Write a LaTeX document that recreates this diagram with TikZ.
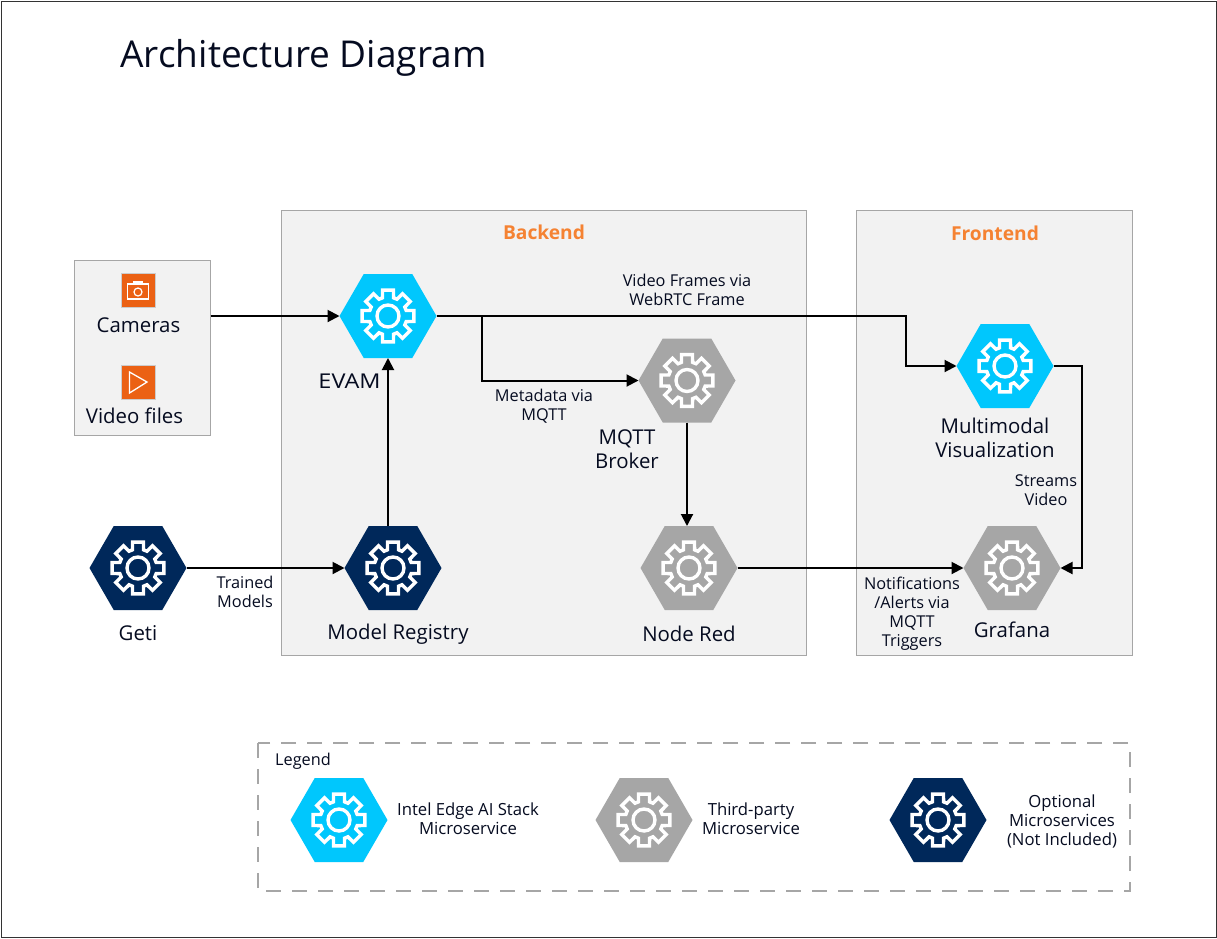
\documentclass[tikz,border=0pt]{standalone}
\usepackage{fontspec}
\setmainfont{Open Sans}
\usetikzlibrary{shapes.geometric,arrows.meta,calc}
\definecolor{icyan}{HTML}{00C7FD}
\definecolor{igray}{HTML}{A6A6A6}
\definecolor{inavy}{HTML}{00285A}
\definecolor{iorange}{HTML}{EB6114}
\definecolor{ohead}{HTML}{F58232}
\definecolor{panel}{HTML}{F2F2F2}
\definecolor{panelline}{HTML}{A6A6A6}
\definecolor{ink}{HTML}{050B20}
\newcommand{\fs}[2]{\fontsize{#1pt}{#2pt}\selectfont}
\tikzset{
  x=1pt,y=-1pt,
  panelbox/.style={draw=panelline,fill=panel,line width=1pt},
  hexnode/.style={regular polygon,regular polygon sides=6,minimum size=97pt,inner sep=0pt,outer sep=0pt,fill=#1},
  conn/.style={draw=black,line width=2pt,-{Triangle[length=12pt,width=12pt]}},
  biglabel/.style={text=ink,align=center,inner sep=0pt,font=\fs{20.4}{24}},
  smalllabel/.style={text=ink,align=center,inner sep=0pt,font=\fs{16.3}{19}},
  legendlabel/.style={text=ink,align=center,inner sep=0pt,font=\fs{16.7}{19}},
  headlabel/.style={text=ohead,inner sep=0pt,font=\bfseries\fs{19.2}{24}},
  iconbox/.style={fill=iorange,draw=black!20,line width=0.8pt,minimum size=34pt,inner sep=0pt,outer sep=0pt},
}
\newcommand{\gear}[1]{%
  \begin{scope}[shift={(#1)},y=1pt]
    \draw[white,line width=3.4pt,line join=miter]
      (-17:19)
      \foreach \a in {0,45,...,315}{
        -- ({\a-17}:19) -- ({\a-12}:26.5) -- ({\a+12}:26.5) -- ({\a+17}:19)
      } -- cycle;
    \draw[white,line width=3.4pt] (0,0) circle (11);
  \end{scope}}
\begin{document}
\begin{tikzpicture}
\useasboundingbox (0,0) rectangle (1217,938);
\fill[white] (0,0) rectangle (1217,938);
\draw[black!80!white,line width=1pt] (1,1) rectangle (1216,937);

\node[biglabel,font=\fs{37}{44}] (title) at (303.5,57.5) {Architecture Diagram};

% panels
\draw[panelbox] (281.5,210.5) rectangle (806.5,655.5);
\draw[panelbox] (856.5,210.5) rectangle (1132.5,655.5);
\node[panelbox,minimum width=136pt,minimum height=175pt,inner sep=0pt,outer sep=0pt] (inputs) at (142.5,347.5) {};
\draw[draw=igray,line width=1.6pt,dash pattern=on 15pt off 11pt] (258,743) rectangle (1130,891);

\node[headlabel] (backend) at (544,232.5) {Backend};
\node[headlabel] (frontend) at (995,233.5) {Frontend};

% icons
\node[iconbox] (camicon) at (138,290) {};
\draw[white,line width=1.2pt] (127.5,284) rectangle (148.5,299);
\draw[white,line width=1.2pt] (138,292) circle (4);
\draw[white,line width=1.4pt] (133,282) -- (143,282);
\node[iconbox] (playicon) at (138,382) {};
\draw[white,line width=1.3pt,line join=miter] (129.5,372) -- (147,382) -- (129.5,393) -- cycle;
\node[biglabel] (cameras) at (138.5,325) {Cameras};
\node[biglabel] (videofiles) at (134.5,416) {Video files};

% hexagons
\node[hexnode=icyan] (evam) at (388,316) {};
\node[hexnode=igray] (mqtt) at (687,380.5) {};
\node[hexnode=icyan] (mmv) at (1005,366) {};
\node[hexnode=inavy] (geti) at (138,568) {};
\node[hexnode=inavy] (registry) at (393,568) {};
\node[hexnode=igray] (nodered) at (689,568) {};
\node[hexnode=igray] (grafana) at (1012,568) {};
\node[hexnode=icyan] (legA) at (339,820) {};
\node[hexnode=igray] (legB) at (644,820) {};
\node[hexnode=inavy] (legC) at (938,820) {};
\foreach \g in {evam,mqtt,mmv,geti,registry,nodered,grafana,legA,legB,legC}{\gear{\g.center}}

% labels
\node[biglabel,xscale=1.15,transform shape] (evamlab) at (349.5,381.5) {EVAM};
\node[biglabel] (mqttlab) at (627,449.5) {MQTT\\Broker};
\node[biglabel] (reglab) at (398,634) {Model Registry};
\node[biglabel] (nrlab) at (689,633.5) {Node Red};
\node[biglabel] (getilab) at (138,633.5) {Geti};
\node[biglabel] (mmvlab) at (995,437.5) {Multimodal\\Visualization};
\node[biglabel] (grafanalab) at (1012,630) {Grafana};

\node[smalllabel] (l1) at (687,290) {Video Frames via\\WebRTC Frame};
\node[smalllabel] (l2) at (544,406) {Metadata via\\MQTT};
\node[smalllabel] (l3) at (245,592) {Trained\\Models};
\node[smalllabel] (l4) at (1046,490) {Streams\\Video};
\node[smalllabel] (l5) at (912,613.5) {Notifications\\/Alerts via\\MQTT\\Triggers};
\node[smalllabel] (leglab) at (303,761) {Legend};
\node[legendlabel] (legAt) at (468,819) {Intel Edge AI Stack\\Microservice};
\node[legendlabel] (legBt) at (751,819) {Third-party\\Microservice};
\node[legendlabel] (legCt) at (1062,821) {Optional\\Microservices\\(Not Included)};

% connectors
\draw[conn] (evam.west -| inputs.east) -- (evam.west);
\draw[conn] (geti.east) -- (registry.west);
\draw[conn] (evam.south |- registry.north) -- (evam.south);
\coordinate (branch) at (482,316);
\coordinate (turn) at (906,316);
\draw[conn] (evam.east) -- (turn) |- (mmv.west);
\draw[conn] (branch) |- (mqtt.west);
\draw[conn] (mqtt.south) -- (nodered.north -| mqtt.south);
\draw[conn] (nodered.east) -- (grafana.west);
\coordinate (right) at (1082,366);
\draw[conn] (mmv.east) -- (right) |- (grafana.east);
\end{tikzpicture}
\end{document}
